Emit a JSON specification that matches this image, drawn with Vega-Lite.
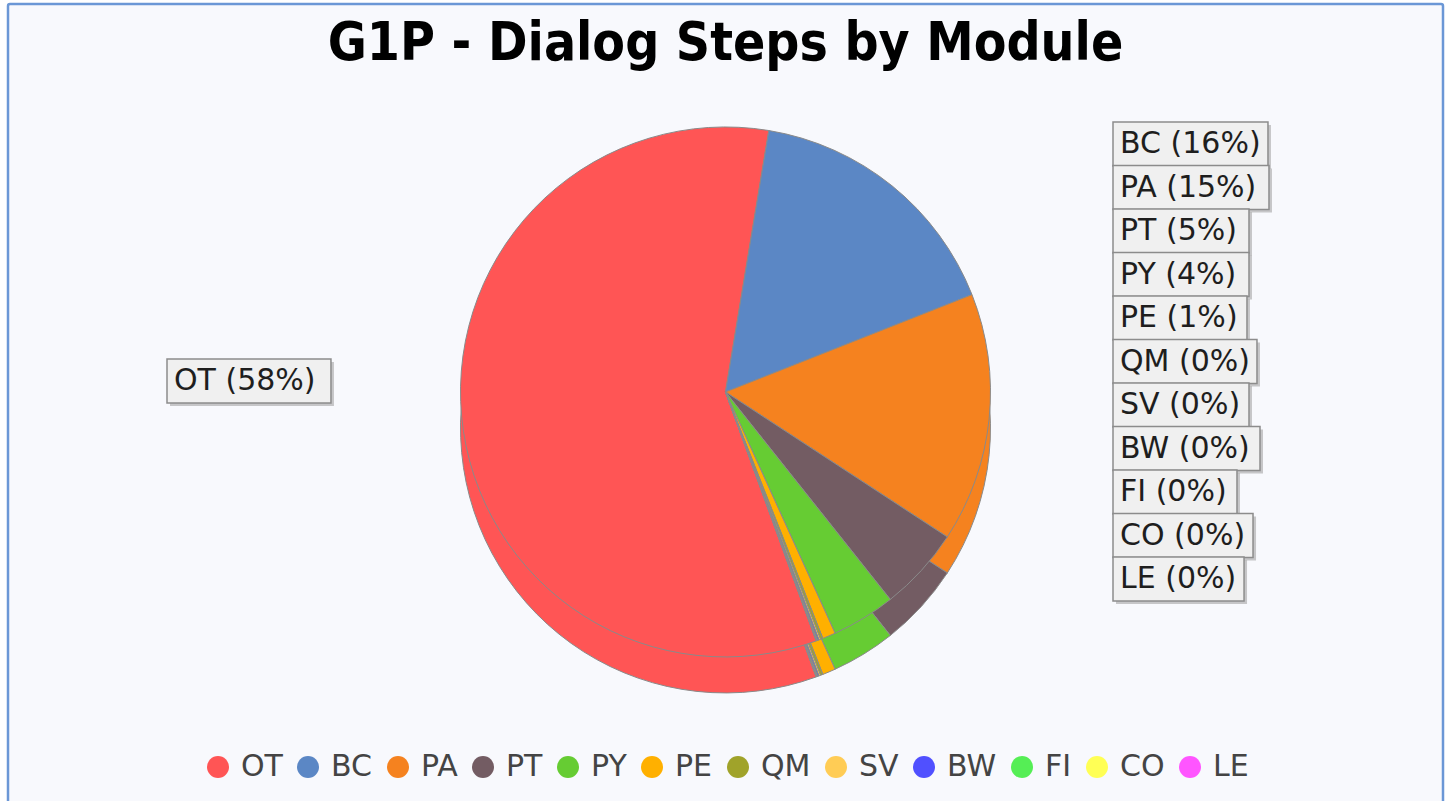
{
  "$schema": "https://vega.github.io/schema/vega-lite/v6.json",
  "autosize": {"type": "fit", "contains": "padding"},
  "width": 1449,
  "height": 801,
  "padding": {"left": 8, "top": 4, "right": 6, "bottom": -4},
  "background": "#ffffff",
  "title": {
    "text": "G1P - Dialog Steps by Module",
    "font": "DejaVu Sans Condensed, Liberation Sans Narrow, DejaVu Sans",
    "fontWeight": "bold",
    "fontSize": 53,
    "color": "#000000",
    "anchor": "middle",
    "offset": -67
  },
  "data": {
    "values": [
      {"module": "OT", "value": 58.17, "label": "OT (58%)", "order": 1},
      {"module": "BC", "value": 16.4, "label": "BC (16%)", "order": 2},
      {"module": "PA", "value": 15.2, "label": "PA (15%)", "order": 3},
      {"module": "PT", "value": 5.1, "label": "PT (5%)", "order": 4},
      {"module": "PY", "value": 3.9, "label": "PY (4%)", "order": 5},
      {"module": "PE", "value": 0.8, "label": "PE (1%)", "order": 6},
      {"module": "QM", "value": 0.15, "label": "QM (0%)", "order": 7},
      {"module": "SV", "value": 0.1, "label": "SV (0%)", "order": 8},
      {"module": "BW", "value": 0.08, "label": "BW (0%)", "order": 9},
      {"module": "FI", "value": 0.05, "label": "FI (0%)", "order": 10},
      {"module": "CO", "value": 0.03, "label": "CO (0%)", "order": 11},
      {"module": "LE", "value": 0.02, "label": "LE (0%)", "order": 12}
    ]
  },
  "layer": [
    {
      "encoding": {
        "theta": {"field": "value", "type": "quantitative", "stack": true, "scale": {"range": [2.7925, 9.0757]}},
        "order": {"field": "order", "type": "quantitative"},
        "y": {"datum": 7.7, "type": "quantitative", "scale": {"domain": [2, 12], "range": [140, 575], "nice": false, "zero": false}, "axis": null},
        "color": {
          "field": "module",
          "type": "nominal",
          "scale": {
            "domain": ["OT", "BC", "PA", "PT", "PY", "PE", "QM", "SV", "BW", "FI", "CO", "LE"],
            "range": ["#FF5555", "#5B87C5", "#F5821F", "#735C63", "#66CC33", "#FFB000", "#A0A32A", "#FFCC55", "#5050FF", "#55EE55", "#FFFF55", "#FF55FF"]
          },
          "legend": {
            "title": null,
            "orient": "none",
            "direction": "horizontal",
            "legendX": 195,
            "legendY": 748,
            "symbolType": "circle",
            "symbolSize": 484,
            "symbolStrokeWidth": 0,
            "symbolOpacity": 1,
            "labelFont": "DejaVu Sans",
            "labelFontSize": 30,
            "labelColor": "#444444",
            "labelOffset": 8,
            "columnPadding": 10,
            "padding": 0
          }
        }
      },
      "layer": [
        {"mark": {"type": "arc", "outerRadius": 265, "yOffset": 36, "stroke": "#8a8a8a", "strokeWidth": 1}},
        {"mark": {"type": "arc", "outerRadius": 265, "stroke": "#8a8a8a", "strokeWidth": 1}}
      ]
    },
    {
      "transform": [{"filter": "datum.order > 1"}],
      "encoding": {
        "x": {"datum": "right", "type": "nominal", "scale": {"type": "point", "domain": ["left", "right"], "range": [243, 1189], "padding": 0}, "axis": null},
        "y": {"field": "order", "type": "quantitative", "scale": {"domain": [2, 12], "range": [140, 575], "nice": false, "zero": false}, "axis": null}
      },
      "layer": [
        {
          "mark": {"type": "point", "filled": true, "size": 28224, "color": "#b0b0b0", "opacity": 0.7, "xOffset": 3, "yOffset": 3, "strokeWidth": 0},
          "encoding": {"shape": {"field": "label", "type": "nominal", "scale": {"domain": ["OT (58%)", "BC (16%)", "PA (15%)", "PT (5%)", "PY (4%)", "PE (1%)", "QM (0%)", "SV (0%)", "BW (0%)", "FI (0%)", "CO (0%)", "LE (0%)"], "range": ["M-1,-0.262H0.952V0.262H-1Z", "M-1,-0.262H0.845V0.262H-1Z", "M-1,-0.262H0.857V0.262H-1Z", "M-1,-0.262H0.619V0.262H-1Z", "M-1,-0.262H0.619V0.262H-1Z", "M-1,-0.262H0.595V0.262H-1Z", "M-1,-0.262H0.714V0.262H-1Z", "M-1,-0.262H0.619V0.262H-1Z", "M-1,-0.262H0.75V0.262H-1Z", "M-1,-0.262H0.476V0.262H-1Z", "M-1,-0.262H0.667V0.262H-1Z", "M-1,-0.262H0.56V0.262H-1Z"]}, "legend": null}}
        },
        {
          "mark": {"type": "point", "filled": true, "size": 28224, "fill": "#f0f0f0", "stroke": "#8c8c8c", "strokeWidth": 1.5, "opacity": 1},
          "encoding": {"shape": {"field": "label", "type": "nominal", "scale": {"domain": ["OT (58%)", "BC (16%)", "PA (15%)", "PT (5%)", "PY (4%)", "PE (1%)", "QM (0%)", "SV (0%)", "BW (0%)", "FI (0%)", "CO (0%)", "LE (0%)"], "range": ["M-1,-0.262H0.952V0.262H-1Z", "M-1,-0.262H0.845V0.262H-1Z", "M-1,-0.262H0.857V0.262H-1Z", "M-1,-0.262H0.619V0.262H-1Z", "M-1,-0.262H0.619V0.262H-1Z", "M-1,-0.262H0.595V0.262H-1Z", "M-1,-0.262H0.714V0.262H-1Z", "M-1,-0.262H0.619V0.262H-1Z", "M-1,-0.262H0.75V0.262H-1Z", "M-1,-0.262H0.476V0.262H-1Z", "M-1,-0.262H0.667V0.262H-1Z", "M-1,-0.262H0.56V0.262H-1Z"]}, "legend": null}}
        },
        {
          "mark": {"type": "text", "align": "left", "baseline": "middle", "dx": -77, "font": "DejaVu Sans", "fontSize": 30, "color": "#1e1e1e"},
          "encoding": {"text": {"field": "label", "type": "nominal"}}
        }
      ]
    },
    {
      "transform": [{"filter": "datum.order == 1"}],
      "encoding": {
        "x": {"datum": "left", "type": "nominal", "scale": {"type": "point", "domain": ["left", "right"], "range": [243, 1189], "padding": 0}, "axis": null},
        "y": {"datum": 7.45, "type": "quantitative", "scale": {"domain": [2, 12], "range": [140, 575], "nice": false, "zero": false}, "axis": null}
      },
      "layer": [
        {
          "mark": {"type": "point", "filled": true, "size": 28224, "color": "#b0b0b0", "opacity": 0.7, "xOffset": 3, "yOffset": 3, "strokeWidth": 0},
          "encoding": {"shape": {"field": "label", "type": "nominal", "scale": {"domain": ["OT (58%)", "BC (16%)", "PA (15%)", "PT (5%)", "PY (4%)", "PE (1%)", "QM (0%)", "SV (0%)", "BW (0%)", "FI (0%)", "CO (0%)", "LE (0%)"], "range": ["M-1,-0.262H0.952V0.262H-1Z", "M-1,-0.262H0.845V0.262H-1Z", "M-1,-0.262H0.857V0.262H-1Z", "M-1,-0.262H0.619V0.262H-1Z", "M-1,-0.262H0.619V0.262H-1Z", "M-1,-0.262H0.595V0.262H-1Z", "M-1,-0.262H0.714V0.262H-1Z", "M-1,-0.262H0.619V0.262H-1Z", "M-1,-0.262H0.75V0.262H-1Z", "M-1,-0.262H0.476V0.262H-1Z", "M-1,-0.262H0.667V0.262H-1Z", "M-1,-0.262H0.56V0.262H-1Z"]}, "legend": null}}
        },
        {
          "mark": {"type": "point", "filled": true, "size": 28224, "fill": "#f0f0f0", "stroke": "#8c8c8c", "strokeWidth": 1.5, "opacity": 1},
          "encoding": {"shape": {"field": "label", "type": "nominal", "scale": {"domain": ["OT (58%)", "BC (16%)", "PA (15%)", "PT (5%)", "PY (4%)", "PE (1%)", "QM (0%)", "SV (0%)", "BW (0%)", "FI (0%)", "CO (0%)", "LE (0%)"], "range": ["M-1,-0.262H0.952V0.262H-1Z", "M-1,-0.262H0.845V0.262H-1Z", "M-1,-0.262H0.857V0.262H-1Z", "M-1,-0.262H0.619V0.262H-1Z", "M-1,-0.262H0.619V0.262H-1Z", "M-1,-0.262H0.595V0.262H-1Z", "M-1,-0.262H0.714V0.262H-1Z", "M-1,-0.262H0.619V0.262H-1Z", "M-1,-0.262H0.75V0.262H-1Z", "M-1,-0.262H0.476V0.262H-1Z", "M-1,-0.262H0.667V0.262H-1Z", "M-1,-0.262H0.56V0.262H-1Z"]}, "legend": null}}
        },
        {
          "mark": {"type": "text", "align": "left", "baseline": "middle", "dx": -77, "font": "DejaVu Sans", "fontSize": 30, "color": "#1e1e1e"},
          "encoding": {"text": {"field": "label", "type": "nominal"}}
        }
      ]
    }
  ],
  "config": {
    "view": {"fill": "#F8F9FD", "stroke": "#6B97D6", "strokeWidth": 2.5, "cornerRadius": 2}
  }
}
